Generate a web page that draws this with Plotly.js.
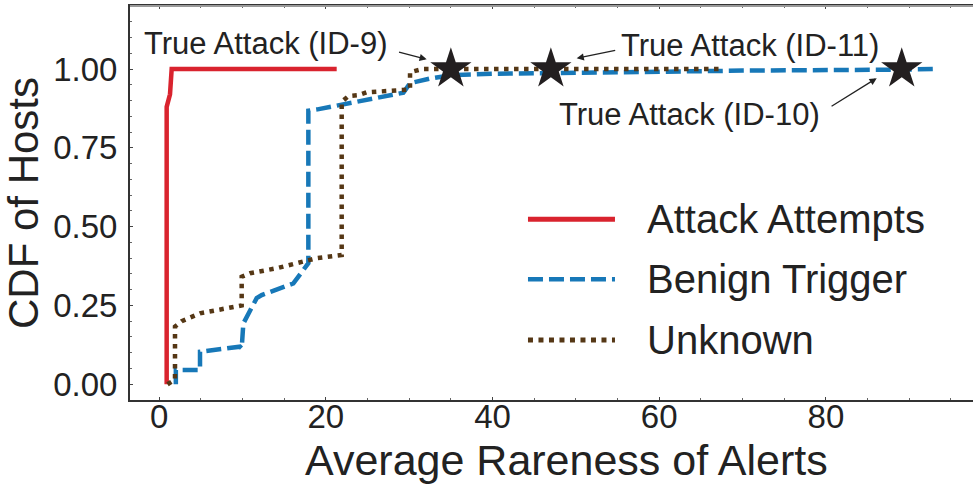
<!DOCTYPE html>
<html>
<head>
<meta charset="utf-8">
<script src="https://cdn.plot.ly/plotly-3.0.1.min.js"></script>
<style>html,body{margin:0;padding:0;background:#fff;}#chart{width:973px;height:485px;}</style>
</head>
<body>
<div id="chart"></div>
<script>
// ---- data ----
const seriesNames = ['Attack Attempts', 'Benign Trigger', 'Unknown'];

const attackX = [0.9, 0.9, 1.3, 1.5, 21.3];
const attackY = [0, 0.88, 0.92, 1.0, 1.0];

const benignX = [2.0, 2.0, 4.9, 4.9, 9.7, 9.9, 10.1, 11.7, 12.3, 16.1, 17.9, 17.9, 19.0, 21.7, 24.4, 27.3, 29.3, 30.1, 32.5, 35.2, 40, 50, 60, 70, 89, 93.2];
const benignY = [0, 0.045, 0.045, 0.103, 0.119, 0.114, 0.193, 0.273, 0.283, 0.32, 0.384, 0.868, 0.872, 0.886, 0.9, 0.912, 0.925, 0.955, 0.97, 0.981, 0.985, 0.988, 0.992, 0.995, 0.998, 1.0];

const unknownX = [1.0, 1.9, 1.9, 2.7, 4.9, 9.3, 9.9, 9.9, 10.9, 14.1, 17.3, 18.9, 21.9, 21.9, 22.7, 23.9, 24.9, 27.1, 29.5, 30.1, 30.1, 31.6, 67.2];
const unknownY = [0, 0.015, 0.183, 0.2, 0.225, 0.246, 0.25, 0.341, 0.352, 0.368, 0.389, 0.4, 0.41, 0.896, 0.914, 0.917, 0.926, 0.931, 0.933, 0.935, 0.99, 1.0, 1.0];

const trueAttackX = [35.0, 47.0, 89.1];
const trueAttackY = [1.0, 1.0, 1.0];
const trueAttackLabels = ['True Attack (ID-9)', 'True Attack (ID-11)', 'True Attack (ID-10)'];

const yTickVals = [0, 0.25, 0.5, 0.75, 1.0];
const yTickText = ['0.00', '0.25', '0.50', '0.75', '1.00'];
const xTickVals = [0, 20, 40, 60, 80];
const xTitle = 'Average Rareness of Alerts';
const yTitle = 'CDF of Hosts';

// ---- styles ----
const RED = '#d9232e', BLUE = '#1778b8', BROWN = '#553715';
const FONT = 'Liberation Sans, Arial, Helvetica, sans-serif';
const TXT = '#222222';

const traces = [
  {x: attackX, y: attackY, name: seriesNames[0], mode: 'lines', line: {color: RED, width: 4.5}},
  {x: benignX, y: benignY, name: seriesNames[1], mode: 'lines', line: {color: BLUE, width: 4.5, dash: '15px,6px'}},
  {x: unknownX, y: unknownY, name: seriesNames[2], mode: 'lines', line: {color: BROWN, width: 4.5, dash: '4.5px,5.5px'}},
  {x: trueAttackX, y: trueAttackY, name: 'True Attack', mode: 'markers', text: trueAttackLabels,
   marker: {symbol: 'star', size: 31, color: '#231f20', line: {width: 0}}}
];

// custom legend (long line samples as in the reference)
const legX0 = 0.4721, legX1 = 0.5753, legTextX = 0.6109;
const legY = [0.4586, 0.3063, 0.1523];
const legStyles = [
  {color: RED, width: 5},
  {color: BLUE, width: 4.5, dash: '15px,6px'},
  {color: BROWN, width: 5, dash: '5px,5.5px'}
];
const shapes = [];
const annotations = [];
seriesNames.forEach((n, i) => {
  shapes.push({type: 'line', xref: 'paper', yref: 'paper', x0: legX0, x1: legX1, y0: legY[i], y1: legY[i], line: legStyles[i]});
  annotations.push({xref: 'paper', yref: 'paper', x: legTextX, y: legY[i], xanchor: 'left', yanchor: 'middle',
    text: n, showarrow: false, font: {family: FONT, size: 40, color: TXT}});
});
// top frame line (lighter)
shapes.push({type: 'line', xref: 'paper', yref: 'paper', x0: 0, x1: 1, y0: 1, y1: 1, line: {color: '#9a9a9a', width: 2}});

// x-axis title (placed slightly right of the plot centre, as in the reference)
annotations.push({xref: 'paper', yref: 'paper', x: 0.518, y: -0.087, xanchor: 'center', yanchor: 'top',
  text: xTitle, showarrow: false, font: {family: FONT, size: 43, color: TXT}});

// labels for true attacks
const labelPos = [
  {x: 12.8, y: 1.081},
  {x: 70.9, y: 1.075},
  {x: 63.6, y: 0.857}
];
trueAttackLabels.forEach((t, i) => {
  annotations.push({xref: 'x', yref: 'y', x: labelPos[i].x, y: labelPos[i].y, text: t, showarrow: false,
    xanchor: 'center', yanchor: 'middle', font: {family: FONT, size: 31, color: TXT}});
});
// arrows
const arrows = [
  {x: 32.1, y: 1.031, ax: 28.6, ay: 1.055},
  {x: 50.1, y: 1.034, ax: 54.9, ay: 1.060},
  {x: 86.1, y: 0.971, ax: 80.5, ay: 0.879}
];
arrows.forEach(a => {
  annotations.push({xref: 'x', yref: 'y', axref: 'x', ayref: 'y', x: a.x, y: a.y, ax: a.ax, ay: a.ay, text: '',
    showarrow: true, arrowhead: 2, arrowsize: 1.1, arrowwidth: 1.3, arrowcolor: '#222', standoff: 0, startstandoff: 0});
});

const layout = {
  width: 973, height: 485,
  margin: {l: 130, r: 0, t: 6, b: 85},
  paper_bgcolor: '#fff', plot_bgcolor: '#fff',
  showlegend: false,
  font: {family: FONT, color: TXT},
  xaxis: {
    range: [-3.5, 97.65], tickvals: xTickVals, ticks: 'inside', ticklen: 3, tickcolor: '#444',
    minor: {dtick: 5, tick0: 0, ticks: 'inside', ticklen: 2, tickcolor: '#666'},
    showline: true, linecolor: '#333', linewidth: 2, mirror: 'ticks', showgrid: false, zeroline: false,
    tickfont: {family: FONT, size: 33, color: TXT}, ticklabelstandoff: -14
  },
  yaxis: {
    range: [-0.05, 1.2], tickvals: yTickVals, ticktext: yTickText, ticks: 'inside', ticklen: 3, tickcolor: '#444',
    minor: {dtick: 0.05, tick0: 0, ticks: 'inside', ticklen: 2, tickcolor: '#666'},
    showline: true, linecolor: '#333', linewidth: 2, showgrid: false, zeroline: false,
    tickfont: {family: FONT, size: 33, color: TXT}, ticklabelstandoff: 4,
    title: {text: yTitle, font: {family: FONT, size: 42, color: TXT}, standoff: 6}
  },
  shapes: shapes,
  annotations: annotations
};

Plotly.newPlot('chart', traces, layout, {staticPlot: true, displayModeBar: false});
</script>
</body>
</html>
